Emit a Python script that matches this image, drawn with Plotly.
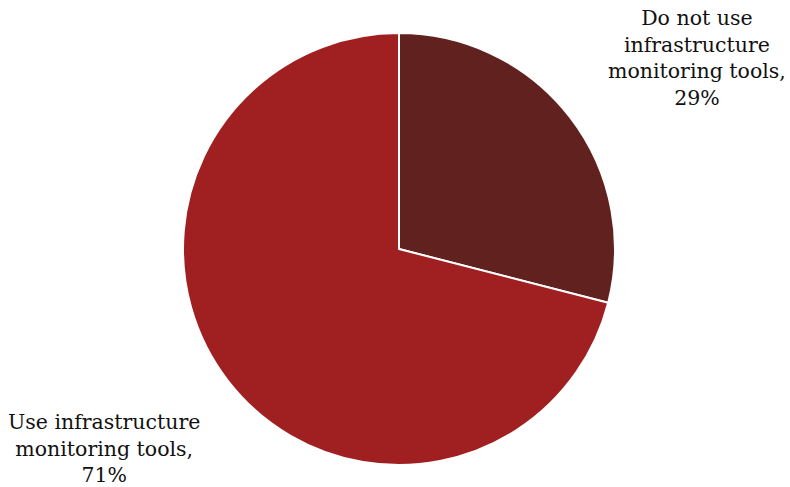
import plotly.graph_objects as go

# Share of respondents by infrastructure monitoring tool usage
categories = ["Do not use infrastructure monitoring tools", "Use infrastructure monitoring tools"]
label_lines = [["Do not use", "infrastructure", "monitoring tools,"], ["Use infrastructure", "monitoring tools,"]]
shares = [29, 71]
colors = ["#61211f", "#a01f21"]

fig = go.Figure(
    go.Pie(
        labels=categories,
        values=shares,
        sort=False,
        direction="clockwise",
        rotation=0,
        textinfo="none",
        hoverinfo="label+percent",
        marker=dict(colors=colors, line=dict(color="white", width=2)),
        domain=dict(x=[0.2316, 0.7785], y=[0.0452, 0.9322]),
        showlegend=False,
    )
)

font = dict(family="DejaVu Serif, Liberation Serif, serif", size=20.5, color="#111111")
positions = [(697 / 790, 1 - 4 / 487, "top"), (104 / 790, 1 - 489 / 487, "bottom")]
for lines, share, (px, py, yanchor) in zip(label_lines, shares, positions):
    fig.add_annotation(
        x=px, y=py, xref="paper", yref="paper",
        text="<br>".join(lines + [f"{share}%"]),
        showarrow=False, align="center", xanchor="center", yanchor=yanchor,
        font=font,
    )

fig.update_layout(
    width=790, height=487,
    margin=dict(l=0, r=0, t=0, b=0),
    paper_bgcolor="white", plot_bgcolor="white",
)

fig.write_html("out.html")
